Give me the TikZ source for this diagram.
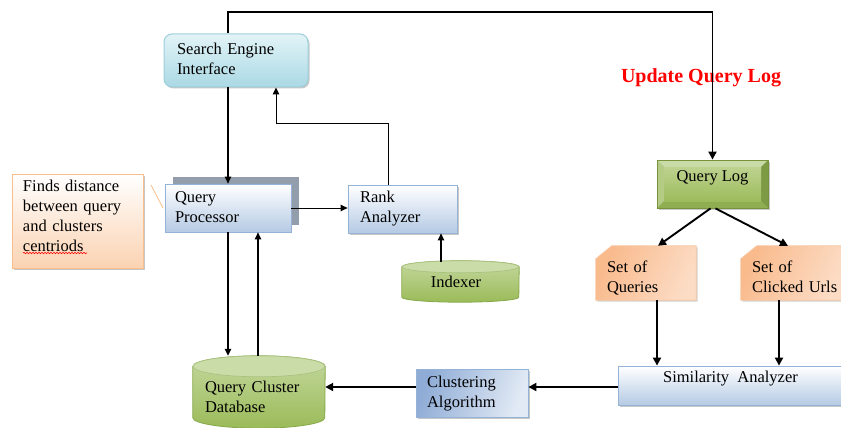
\documentclass[tikz,border=0pt]{standalone}
\usepackage{fontspec}
\setmainfont{Liberation Serif}
\usetikzlibrary{arrows.meta,shadows,backgrounds,decorations.pathmorphing,calc}

\definecolor{seiTop}{HTML}{E2F3F7}
\definecolor{seiBot}{HTML}{AAD9E4}
\definecolor{seiLine}{HTML}{9DCFDB}
\definecolor{blueBot}{HTML}{B5CAE4}
\definecolor{blueLine}{HTML}{95B3D7}
\definecolor{qpShadow}{HTML}{939EAC}
\definecolor{caDark}{HTML}{8FACD6}
\definecolor{caLight}{HTML}{E2EAF5}
\definecolor{grnLight}{HTML}{C4D89E}
\definecolor{grnMid}{HTML}{9BBB59}
\definecolor{grnEdge}{HTML}{86A84A}
\definecolor{grnDark}{HTML}{77933C}
\definecolor{qlTop}{HTML}{C9DBA6}
\definecolor{qlLeft}{HTML}{B3CB84}
\definecolor{qlBottom}{HTML}{8FAE52}
\definecolor{qlRight}{HTML}{7D9B45}
\definecolor{qlInTop}{HTML}{BDD28F}
\definecolor{qlInBot}{HTML}{9DBC5C}
\definecolor{orgDark}{HTML}{F9BA8C}
\definecolor{orgLight}{HTML}{FCDCC5}
\definecolor{orgLine}{HTML}{F7C7A3}
\definecolor{noteBot}{HTML}{FBD3B2}
\definecolor{noteLine}{HTML}{F9BE8C}

% left-aligned block of lines, moved vertically without changing its size
\newcommand\textlines[2]{\raisebox{#1}[\height][\depth]{\begin{tabular}{@{}l@{}}#2\end{tabular}}}
\newcommand\shifted[2]{\raisebox{#1}[\height][\depth]{#2}}

\begin{document}
\begin{tikzpicture}[x=1pt,y=-1pt,
  font=\fontsize{16.5}{20}\selectfont,
  box/.style={rectangle, align=left, inner ysep=0pt},
  softshadow/.style={drop shadow={shadow xshift=1.5pt, shadow yshift=-1.5pt, opacity=.22, fill=black}},
  bluebox/.style={box, top color=white, bottom color=blueBot, draw=blueLine, line width=.8pt},
  flow/.style={draw=black, line width=1.2pt, -{Triangle[length=7pt,width=6.5pt]}},
  flowthick/.style={draw=black, line width=1.9pt, -{Triangle[length=8pt,width=8pt]}},
  cylbody/.style={top color=grnLight, bottom color=grnMid, draw=grnEdge, line width=.8pt},
  cyltop/.style={fill=grnLight!90!white, draw=grnEdge!70!white, line width=.7pt},
  setshape/.style={left color=orgDark, right color=orgLight, shading angle=65, draw=orgLine, line width=.8pt},
]
\useasboundingbox (0,0) rectangle (841,428);

% ---------- nodes ----------
\node[box, rounded corners=8pt, top color=seiTop, bottom color=seiBot, draw=seiLine,
      line width=1pt, softshadow, minimum height=53pt, text width=118pt, inner xsep=13pt]
      (sei) at (236,60.5) {\textlines{0pt}{Search Engine\\Interface}};

\node[bluebox, drop shadow={shadow xshift=8pt, shadow yshift=7pt, fill=qpShadow, opacity=1},
      minimum height=48pt, text width=106pt, inner xsep=10pt]
      (qp) at (228,208) {\textlines{0pt}{Query\\Processor}};

\node[bluebox, softshadow, minimum height=48pt, text width=85pt, inner xsep=12pt]
      (ra) at (402.5,209) {\textlines{1pt}{Rank\\Analyzer}};

\node[box, align=center, minimum width=117pt, minimum height=41pt, inner sep=0pt]
      (idx) at (460.5,281.5) {\hspace*{-9pt}Indexer};

\node[box, minimum width=132pt, minimum height=72pt, text width=108pt, inner xsep=12pt]
      (qcdb) at (259,392) {\textlines{-6.5pt}{Query Cluster\\Database}};

\node[box, left color=caDark, right color=caLight, shading angle=70, draw=blueLine,
      line width=.8pt, softshadow, minimum height=48pt, text width=90pt, inner xsep=11pt]
      (ca) at (472,393) {\textlines{0pt}{Clustering\\Algorithm}};

\node[bluebox, align=center, softshadow, minimum width=225pt, minimum height=39pt, inner sep=0pt]
      (sim) at (730.5,385.5) {\shifted{7pt}{Similarity\ \ Analyzer}};

\node[rectangle, draw=grnDark, line width=.8pt, minimum width=111pt, minimum height=48pt,
      inner sep=0pt, softshadow,
      path picture={
        \coordinate (qlnw) at (path picture bounding box.north west);
        \coordinate (qlne) at (path picture bounding box.north east);
        \coordinate (qlsw) at (path picture bounding box.south west);
        \coordinate (qlse) at (path picture bounding box.south east);
        \fill[qlTop] (qlnw) -- (qlne) -- ([shift={(-7pt,-7pt)}]qlne) -- ([shift={(7pt,-7pt)}]qlnw) -- cycle;
        \fill[qlLeft] (qlnw) -- ([shift={(7pt,-7pt)}]qlnw) -- ([shift={(7pt,7pt)}]qlsw) -- (qlsw) -- cycle;
        \fill[qlBottom] (qlsw) -- ([shift={(7pt,7pt)}]qlsw) -- ([shift={(-7pt,7pt)}]qlse) -- (qlse) -- cycle;
        \fill[qlRight] (qlne) -- (qlse) -- ([shift={(-7pt,7pt)}]qlse) -- ([shift={(-7pt,-7pt)}]qlne) -- cycle;
        \shade[top color=qlInTop, bottom color=qlInBot] ([shift={(7pt,-7pt)}]qlnw) rectangle ([shift={(-7pt,7pt)}]qlse);
      }]
      (ql) at (712.5,184) {\shifted{6pt}{Query Log}};

\node[box, minimum height=54pt, text width=78pt, inner xsep=11pt]
      (soq) at (646,273) {\textlines{-5pt}{Set of\\Queries}};
\node[box, minimum height=54pt, text width=80pt, inner xsep=11pt]
      (soc) at (792,273) {\textlines{-5pt}{Set of\\\mbox{Clicked Urls}}};

\node[box, top color=white, bottom color=noteBot, draw=noteLine, line width=.8pt, softshadow,
      minimum height=94pt, text width=109pt, inner xsep=11pt]
      (note) at (77.5,221) {\textlines{4pt}{Finds distance\\between query\\and clusters\\centriods}};

\node[font=\fontsize{20}{24}\selectfont\bfseries, text=red, inner sep=0pt]
      (upd) at (701,78) {Update Query Log};

% ---------- shapes behind the text nodes ----------
\begin{scope}[on background layer]
  % cylinders
  \shade[cylbody] ([yshift=-10.5pt]qcdb.north west) -- ([yshift=10.5pt]qcdb.south west)
      arc[start angle=180, end angle=360, x radius=66pt, y radius=10.5pt]
      -- ([yshift=-10.5pt]qcdb.north east)
      arc[start angle=0, end angle=180, x radius=66pt, y radius=10.5pt] -- cycle;
  \filldraw[cyltop] ([yshift=-10.5pt]qcdb.north) ellipse[x radius=66pt, y radius=10.5pt];

  \shade[cylbody] ([yshift=-6pt]idx.north west) -- ([yshift=5pt]idx.south west)
      arc[start angle=180, end angle=360, x radius=58.5pt, y radius=5pt]
      -- ([yshift=-6pt]idx.north east)
      arc[start angle=0, end angle=180, x radius=58.5pt, y radius=6pt] -- cycle;
  \filldraw[cyltop] ([yshift=-6pt]idx.north) ellipse[x radius=58.5pt, y radius=6pt];

  % snipped-corner boxes
  \foreach \n in {soq,soc}{
    \fill[black, opacity=.18] ([shift={(1.5pt,-1.5pt)}]\n.south west) -- ([shift={(1.5pt,-14.5pt)}]\n.north west)
        -- ([shift={(17.5pt,-1.5pt)}]\n.north west) -- ([shift={(1.5pt,-1.5pt)}]\n.north east)
        -- ([shift={(1.5pt,-1.5pt)}]\n.south east) -- cycle;
    \shade[setshape] (\n.south west) -- ([yshift=-13pt]\n.north west) -- ([xshift=16pt]\n.north west)
        -- (\n.north east) -- (\n.south east) -- cycle;
  }
\end{scope}

% spelling mark under the last word of the note
\coordinate (wavyA) at (23,253);
\coordinate (wavyB) at (87,253);
\draw[red, line width=.6pt, decorate, decoration={snake, amplitude=.7pt, segment length=3pt}] (wavyA) -- (wavyB);

% callout pointer from the note to the query processor
\coordinate (calloutA) at (151,185);
\coordinate (calloutB) at (163,208);
\draw[noteLine, line width=.8pt] (calloutA) -- (calloutB);

% ---------- connectors ----------
\coordinate (loopY) at (0,12);
\draw[flowthick, line width=1.8pt] (sei.north -| qp.north) |- (ql.north |- loopY) -- (ql.north);

\draw[flow] (sei.south -| qp.north) -- (qp.north);
\draw[flow, line width=1pt] (qp.east) -- (qp.east -| ra.west);

\coordinate (raBend) at (388,123);
\draw[flow, line width=1pt] (ra.north -| raBend) -- (raBend) -| ([xshift=40pt]sei.south);

\coordinate (idxCol) at (441,0);
\draw[flow] ([yshift=-1pt]idxCol |- idx.north) -- (idxCol |- ra.south);

\draw[flowthick] ([xshift=-2pt]ql.south) -- ([xshift=12pt]soq.north);
\draw[flowthick] ([xshift=3pt]ql.south) -- ([xshift=-4pt]soc.north);

\coordinate (soqOut) at ([xshift=11pt]soq.south);
\coordinate (socOut) at ([xshift=-13pt]soc.south);
\draw[flowthick] (soqOut) -- (soqOut |- sim.north);
\draw[flowthick] (socOut) -- (socOut |- sim.north);

\coordinate (rowY) at (0,387);
\draw[flowthick] (sim.west |- rowY) -- (ca.east |- rowY);
\draw[flowthick] (ca.west |- rowY) -- (qcdb.east |- rowY);

\draw[flow] (qp.south) -- (qp.south |- qcdb.north);
\coordinate (upCol) at ([xshift=30pt]qp.south);
\draw[flow] (upCol |- qcdb.north) -- (upCol);
\end{tikzpicture}
\end{document}
